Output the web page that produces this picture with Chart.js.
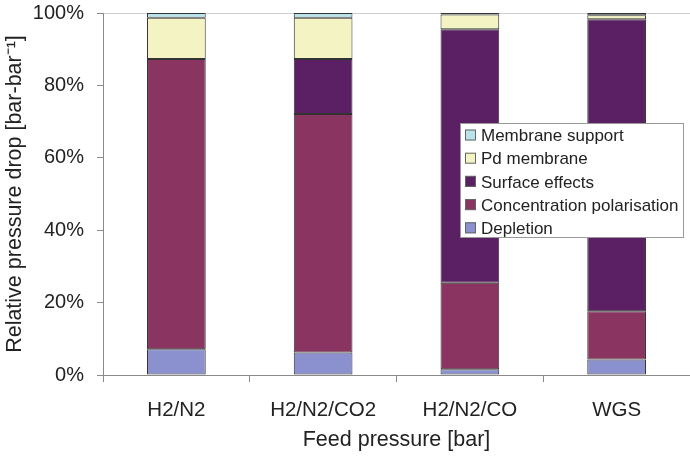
<!DOCTYPE html>
<html>
<head>
<meta charset="utf-8">
<script src="https://cdn.jsdelivr.net/npm/chart.js@4/dist/chart.umd.min.js"></script>
<style>
  html, body { margin: 0; padding: 0; background: #fff; }
  #wrap { width: 690px; height: 457px; }
</style>
</head>
<body>
<div id="wrap"><canvas id="c" width="690" height="457"></canvas></div>
<script>
// Feed gas categories
const categories = ['H2/N2', 'H2/N2/CO2', 'H2/N2/CO', 'WGS'];

// Share of the relative pressure drop per resistance (%)
const depletion = [7.1, 6.2, 1.6, 4.3];
const concentrationPolarisation = [80.2, 65.9, 23.9, 13.3];
const surfaceEffects = [0, 15.2, 70.0, 80.7];
const pdMembrane = [11.4, 11.4, 4.1, 1.1];
const membraneSupport = [1.3, 1.3, 0.4, 0.6];

// Y axis ticks (%)
const yTicks = [0, 20, 40, 60, 80, 100];

const FONT = "'Liberation Sans', Arial, Helvetica, sans-serif";
const TEXT = '#222';

function ds(label, data, color) {
  return {
    label, data,
    backgroundColor: color,
    borderColor: '#333',
    borderWidth: 1,
    borderSkipped: false,
    categoryPercentage: 1.0,
    barPercentage: 0.4
  };
}

// Boxed legend placed inside the plot area, top series listed first
const insideLegend = {
  id: 'insideLegend',
  afterDraw(chart) {
    const { ctx, chartArea } = chart;
    const x0 = chartArea.right - 230, y0 = chartArea.top + 110;
    const w = 223, h = 114, row = 23.2;
    ctx.save();
    ctx.fillStyle = '#fff';
    ctx.strokeStyle = '#9a9a9a';
    ctx.lineWidth = 1;
    ctx.fillRect(x0, y0, w, h);
    ctx.strokeRect(x0 + 0.5, y0 + 0.5, w, h);
    ctx.font = '17px ' + FONT;
    ctx.textBaseline = 'middle';
    const sets = chart.data.datasets.slice().reverse();
    sets.forEach((d, i) => {
      const cy = y0 + 12.5 + i * row;
      ctx.fillStyle = d.backgroundColor;
      ctx.fillRect(x0 + 5, cy - 6, 11, 11);
      ctx.strokeStyle = '#666';
      ctx.strokeRect(x0 + 5.5, cy - 5.5, 10, 10);
      ctx.fillStyle = TEXT;
      ctx.fillText(d.label, x0 + 21, cy + 1);
    });
    ctx.restore();
  }
};

new Chart(document.getElementById('c'), {
  type: 'bar',
  data: {
    labels: categories,
    datasets: [
      ds('Depletion', depletion, '#8b90cf'),
      ds('Concentration polarisation', concentrationPolarisation, '#8a3561'),
      ds('Surface effects', surfaceEffects, '#5b1f63'),
      ds('Pd membrane', pdMembrane, '#f3f3c3'),
      ds('Membrane support', membraneSupport, '#b9e3ea')
    ]
  },
  options: {
    responsive: false,
    animation: false,
    layout: { padding: { top: 13, right: 0, left: 0, bottom: 0 } },
    plugins: { legend: { display: false }, tooltip: { enabled: false } },
    scales: {
      x: {
        stacked: true,
        afterFit(scale) { scale.height = 82; scale.paddingLeft = 0; scale.paddingRight = 0; },
        border: { color: '#8a8a8a', width: 1 },
        grid: { offset: true, drawOnChartArea: false, tickLength: 7, tickColor: '#8a8a8a' },
        ticks: { color: TEXT, font: { family: FONT, size: 20.5 }, padding: 16 },
        title: {
          display: true, text: 'Feed pressure [bar]', color: TEXT,
          font: { family: FONT, size: 21.5 }, padding: { top: 2, bottom: 4 }
        }
      },
      y: {
        stacked: true,
        min: 0, max: 100,
        afterFit(scale) { scale.width = 103; scale.paddingTop = 0; scale.paddingBottom = 0; },
        afterBuildTicks(scale) { scale.ticks = yTicks.map(v => ({ value: v })); },
        border: { color: '#8a8a8a', width: 1 },
        grid: {
          color: ctx => (ctx.tick && ctx.tick.value === 100) ? '#cfcfcf' : 'rgba(0,0,0,0)',
          tickColor: '#8a8a8a',
          tickLength: 6
        },
        ticks: {
          color: TEXT, font: { family: FONT, size: 20 }, padding: 13,
          callback: v => v + '%'
        },
        title: {
          display: true, text: 'Relative pressure drop [bar-bar\u207B\u00B9]', color: TEXT,
          font: { family: FONT, size: 21.5 }, padding: { top: 2, bottom: 4 }
        }
      }
    }
  },
  plugins: [insideLegend]
});
</script>
</body>
</html>
